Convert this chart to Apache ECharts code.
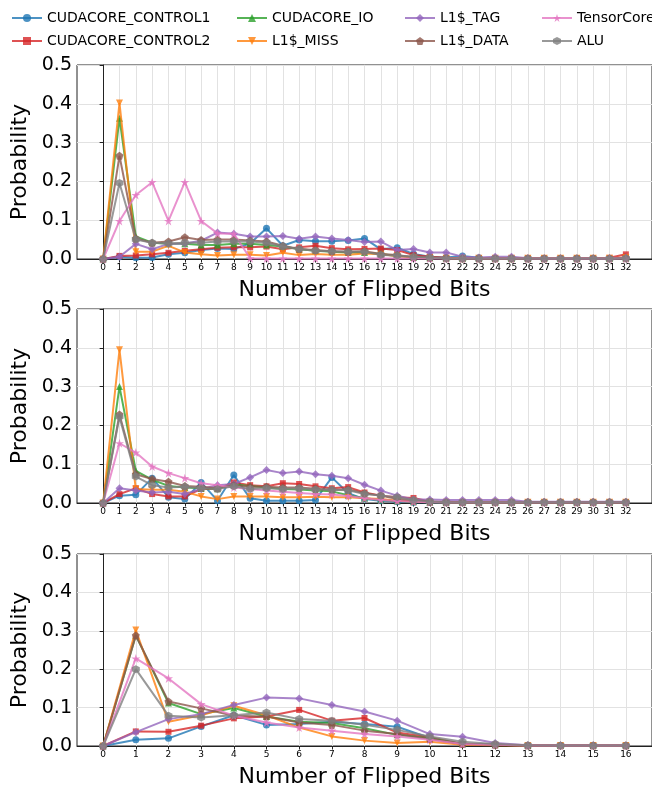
<!DOCTYPE html>
<html>
<head>
<meta charset="utf-8">
<script src="https://cdn.jsdelivr.net/npm/echarts@6/dist/echarts.min.js"></script>
<style>
  html, body { margin: 0; padding: 0; background: #fff; }
  #main { width: 652px; height: 789px; }
</style>
</head>
<body>
<div id="main"></div>
<script>
var names = ['CUDACORE_CONTROL1', 'CUDACORE_CONTROL2', 'CUDACORE_IO', 'L1$_MISS', 'L1$_TAG', 'L1$_DATA', 'TensorCore', 'ALU'];

// top panel, 0..32 bits
var p1_ctrl1 = [0, 0.006, 0.003, 0.004, 0.012, 0.016, 0.023, 0.027, 0.026, 0.040, 0.079, 0.034, 0.049, 0.046, 0.046, 0.048, 0.053, 0.025, 0.029, 0.013, 0.006, 0.004, 0.008, 0.003, 0.002, 0.002, 0.001, 0.001, 0.001, 0.001, 0.001, 0.001, 0.003];
var p1_ctrl2 = [0, 0.008, 0.009, 0.012, 0.016, 0.021, 0.025, 0.029, 0.030, 0.030, 0.032, 0.025, 0.030, 0.034, 0.028, 0.025, 0.026, 0.027, 0.023, 0.010, 0.006, 0.003, 0.002, 0.002, 0.002, 0.002, 0.002, 0.002, 0.002, 0.002, 0.002, 0.003, 0.012];
var p1_io = [0, 0.363, 0.058, 0.042, 0.039, 0.039, 0.036, 0.036, 0.039, 0.039, 0.036, 0.032, 0.025, 0.021, 0.019, 0.017, 0.017, 0.013, 0.008, 0.004, 0.003, 0.002, 0.001, 0.001, 0.001, 0.001, 0.001, 0.001, 0.001, 0.001, 0.001, 0.001, 0.002];
var p1_miss = [0, 0.402, 0.019, 0.019, 0.034, 0.017, 0.012, 0.009, 0.011, 0.011, 0.009, 0.016, 0.010, 0.013, 0.011, 0.011, 0.014, 0.012, 0.008, 0.004, 0.003, 0.002, 0.002, 0.002, 0.002, 0.002, 0.002, 0.002, 0.002, 0.002, 0.002, 0.002, 0.004];
var p1_tag = [0, 0.006, 0.039, 0.025, 0.039, 0.040, 0.047, 0.068, 0.065, 0.058, 0.058, 0.059, 0.052, 0.058, 0.053, 0.049, 0.044, 0.045, 0.023, 0.026, 0.017, 0.017, 0.006, 0.004, 0.006, 0.006, 0.002, 0.001, 0.001, 0.001, 0.001, 0.001, 0.003];
var p1_data = [0, 0.266, 0.053, 0.042, 0.045, 0.056, 0.049, 0.050, 0.050, 0.048, 0.045, 0.034, 0.026, 0.023, 0.020, 0.019, 0.020, 0.013, 0.010, 0.005, 0.003, 0.002, 0.001, 0.001, 0.001, 0.001, 0.001, 0.001, 0.001, 0.001, 0.001, 0.001, 0.002];
var p1_tensor = [0, 0.098, 0.165, 0.198, 0.098, 0.198, 0.098, 0.066, 0.065, 0.002, 0.001, 0.001, 0.001, 0.001, 0.001, 0.001, 0.001, 0.001, 0.001, 0.001, 0.001, 0.001, 0.001, 0.001, 0.001, 0.001, 0.001, 0.001, 0.001, 0.001, 0.001, 0.001, 0.001];
var p1_alu = [0, 0.196, 0.050, 0.042, 0.040, 0.042, 0.042, 0.045, 0.046, 0.045, 0.042, 0.032, 0.026, 0.021, 0.020, 0.019, 0.019, 0.010, 0.009, 0.006, 0.004, 0.002, 0.001, 0.001, 0.001, 0.001, 0.001, 0.001, 0.001, 0.001, 0.001, 0.001, 0.002];

// middle panel, 0..32 bits
var p2_ctrl1 = [0, 0.019, 0.021, 0.064, 0.015, 0.010, 0.053, 0.006, 0.072, 0.012, 0.006, 0.006, 0.006, 0.008, 0.066, 0.025, 0.010, 0.006, 0.003, 0.002, 0.002, 0.001, 0.001, 0.001, 0.001, 0.001, 0.001, 0.001, 0.001, 0.001, 0.001, 0.001, 0.001];
var p2_ctrl2 = [0, 0.023, 0.038, 0.023, 0.017, 0.017, 0.036, 0.037, 0.053, 0.046, 0.043, 0.051, 0.049, 0.043, 0.038, 0.041, 0.027, 0.019, 0.015, 0.013, 0.004, 0.003, 0.002, 0.002, 0.002, 0.002, 0.002, 0.002, 0.002, 0.002, 0.002, 0.002, 0.002];
var p2_io = [0, 0.300, 0.083, 0.060, 0.044, 0.040, 0.038, 0.037, 0.048, 0.044, 0.040, 0.036, 0.035, 0.032, 0.030, 0.020, 0.012, 0.008, 0.005, 0.003, 0.002, 0.001, 0.001, 0.001, 0.001, 0.001, 0.001, 0.001, 0.001, 0.001, 0.001, 0.001, 0.001];
var p2_miss = [0, 0.395, 0.036, 0.034, 0.034, 0.029, 0.017, 0.010, 0.017, 0.017, 0.017, 0.015, 0.015, 0.016, 0.015, 0.015, 0.012, 0.010, 0.006, 0.004, 0.003, 0.002, 0.002, 0.002, 0.002, 0.002, 0.002, 0.002, 0.002, 0.002, 0.002, 0.002, 0.002];
var p2_tag = [0, 0.038, 0.032, 0.027, 0.029, 0.023, 0.036, 0.046, 0.049, 0.066, 0.085, 0.077, 0.081, 0.074, 0.070, 0.064, 0.047, 0.032, 0.019, 0.009, 0.009, 0.008, 0.008, 0.008, 0.008, 0.008, 0.003, 0.003, 0.003, 0.003, 0.003, 0.003, 0.003];
var p2_data = [0, 0.228, 0.074, 0.062, 0.055, 0.044, 0.042, 0.038, 0.046, 0.042, 0.042, 0.040, 0.040, 0.037, 0.034, 0.035, 0.025, 0.019, 0.010, 0.006, 0.003, 0.002, 0.002, 0.002, 0.002, 0.002, 0.002, 0.002, 0.002, 0.002, 0.002, 0.002, 0.002];
var p2_tensor = [0, 0.154, 0.130, 0.094, 0.077, 0.064, 0.051, 0.046, 0.040, 0.036, 0.032, 0.029, 0.026, 0.023, 0.022, 0.018, 0.012, 0.008, 0.005, 0.003, 0.002, 0.001, 0.001, 0.001, 0.001, 0.001, 0.001, 0.001, 0.001, 0.001, 0.001, 0.001, 0.001];
var p2_alu = [0, 0.222, 0.068, 0.046, 0.040, 0.042, 0.038, 0.036, 0.043, 0.036, 0.038, 0.036, 0.038, 0.035, 0.034, 0.033, 0.023, 0.019, 0.015, 0.008, 0.004, 0.002, 0.002, 0.002, 0.002, 0.002, 0.002, 0.002, 0.002, 0.002, 0.002, 0.002, 0.002];

// bottom panel, 0..16 bits
var p3_ctrl1 = [0, 0.016, 0.020, 0.051, 0.080, 0.055, 0.057, 0.063, 0.057, 0.050, 0.021, 0.005, 0.003, 0.001, 0.001, 0.001, 0.001];
var p3_ctrl2 = [0, 0.038, 0.037, 0.053, 0.072, 0.077, 0.094, 0.066, 0.073, 0.035, 0.023, 0.005, 0.003, 0.001, 0.001, 0.001, 0.001];
var p3_io = [0, 0.288, 0.112, 0.083, 0.099, 0.077, 0.063, 0.060, 0.046, 0.029, 0.020, 0.005, 0.003, 0.001, 0.001, 0.001, 0.001];
var p3_miss = [0, 0.302, 0.063, 0.080, 0.105, 0.080, 0.048, 0.025, 0.014, 0.008, 0.011, 0.003, 0.002, 0.001, 0.001, 0.001, 0.001];
var p3_tag = [0, 0.036, 0.070, 0.083, 0.107, 0.126, 0.124, 0.107, 0.090, 0.066, 0.031, 0.024, 0.008, 0.002, 0.001, 0.001, 0.001];
var p3_data = [0, 0.288, 0.116, 0.098, 0.079, 0.077, 0.061, 0.055, 0.040, 0.031, 0.018, 0.005, 0.003, 0.001, 0.001, 0.001, 0.001];
var p3_tensor = [0, 0.228, 0.176, 0.109, 0.079, 0.061, 0.048, 0.040, 0.031, 0.025, 0.016, 0.005, 0.003, 0.001, 0.001, 0.001, 0.001];
var p3_alu = [0, 0.200, 0.079, 0.074, 0.080, 0.087, 0.070, 0.066, 0.055, 0.042, 0.025, 0.011, 0.005, 0.002, 0.001, 0.001, 0.001];

var panels = [
    [p1_ctrl1, p1_ctrl2, p1_io, p1_miss, p1_tag, p1_data, p1_tensor, p1_alu],
    [p2_ctrl1, p2_ctrl2, p2_io, p2_miss, p2_tag, p2_data, p2_tensor, p2_alu],
    [p3_ctrl1, p3_ctrl2, p3_io, p3_miss, p3_tag, p3_data, p3_tensor, p3_alu]
];

var colors = ['#1f77b4', '#d62728', '#2ca02c', '#ff7f0e', '#9467bd', '#8c564b', '#e377c2', '#7f7f7f'];
var pentagon = 'path://M0,-10 L9.51,-3.09 L5.88,8.09 L-5.88,8.09 L-9.51,-3.09 Z';
var star = 'path://M0,-10 L2.245,-3.09 L9.51,-3.09 L3.633,1.18 L5.878,8.09 L0,3.82 L-5.878,8.09 L-3.633,1.18 L-9.51,-3.09 L-2.245,-3.09 Z';
var hexagon = 'path://M0,-10 L8.66,-5 L8.66,5 L0,10 L-8.66,5 L-8.66,-5 Z';
var symbols = ['circle', 'rect', 'triangle', 'triangle', 'diamond', pentagon, star, hexagon];
var rotates = [0, 0, 0, 180, 0, 0, 0, 0];
var sizes = [7, 6, 7, 7, 8, 8, 9, 8];

var font = 'DejaVu Sans';
var gridTops = [65, 309, 554];

var grids = [], xAxes = [], yAxes = [], series = [];

gridTops.forEach(function (top, p) {
    var n = panels[p][0].length;
    var ticks = [];
    for (var i = 0; i < n; i++) ticks.push(i);
    var pad = (n - 1) * 0.05;

    grids.push({left: 77, right: -6, top: top, height: 194, show: true, borderColor: '#222', borderWidth: 1});

    xAxes.push({
        type: 'value', gridIndex: p, min: -pad, max: n - 1 + pad,
        name: 'Number of Flipped Bits', nameLocation: 'middle', nameGap: 20,
        nameTextStyle: {fontFamily: font, fontSize: 22, color: '#000'},
        axisLine: {onZero: false, lineStyle: {color: '#222', width: 1}},
        axisTick: {customValues: ticks, length: 3.5, lineStyle: {color: '#222'}},
        axisLabel: {customValues: ticks, fontFamily: font, fontSize: 9, color: '#000', margin: 4},
        splitLine: {show: true, lineStyle: {color: '#e2e2e2', width: 1}}
    });

    yAxes.push({
        type: 'value', gridIndex: p, min: 0, max: 0.5, interval: 0.1,
        name: 'Probability', nameLocation: 'middle', nameGap: 40,
        nameTextStyle: {fontFamily: font, fontSize: 22, color: '#000'},
        axisLine: {show: true, lineStyle: {color: '#222', width: 1}},
        axisTick: {show: true, length: 3.5, lineStyle: {color: '#222'}},
        axisLabel: {fontFamily: font, fontSize: 19, color: '#000', margin: 5,
            formatter: function (v) { return v.toFixed(1); }},
        splitLine: {show: true, lineStyle: {color: '#e2e2e2', width: 1}}
    });

    panels[p].forEach(function (vals, k) {
        series.push({
            name: names[k], type: 'line', xAxisIndex: p, yAxisIndex: p,
            data: vals.map(function (v, i) { return [i, v]; }),
            symbol: symbols[k], symbolSize: sizes[k], symbolRotate: rotates[k],
            showAllSymbol: true,
            lineStyle: {width: 2, color: colors[k], opacity: 0.8},
            itemStyle: {color: colors[k], opacity: 0.8},
            z: 2 + k, animation: false
        });
    });
});

// legend: 4 columns x 2 rows
var legendLeft = [6, 231, 399, 536];
var legends = legendLeft.map(function (x, c) {
    return {
        data: [names[c * 2], names[c * 2 + 1]], orient: 'vertical', left: x, top: 6,
        itemWidth: 30, itemHeight: 10, itemGap: 9, selectedMode: false,
        textStyle: {fontFamily: font, fontSize: 14, color: '#000'}
    };
});

var myChart = echarts.init(document.getElementById('main'));
myChart.setOption({
    animation: false,
    color: colors,
    legend: legends,
    grid: grids,
    xAxis: xAxes,
    yAxis: yAxes,
    series: series
});
</script>
</body>
</html>
